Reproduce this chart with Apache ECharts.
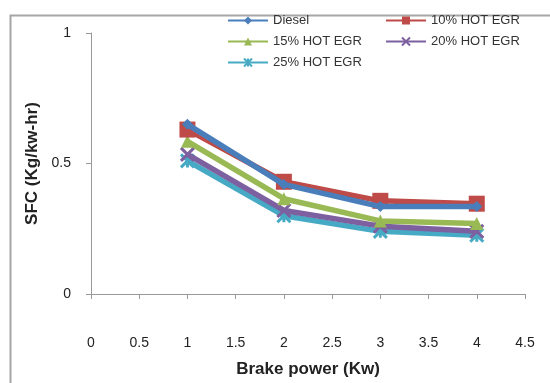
<!DOCTYPE html>
<html><head><meta charset="utf-8">
<script src="https://cdn.jsdelivr.net/npm/echarts@6/dist/echarts.min.js"></script>
<style>html,body{margin:0;padding:0;background:#fff}#c{width:550px;height:383px}</style>
</head><body><div id="c"></div>
<script>
const xValues = [1, 2, 3, 4];
const seriesNames = ['Diesel', '10% HOT EGR', '15% HOT EGR', '20% HOT EGR', '25% HOT EGR'];
const diesel = [0.65, 0.42, 0.335, 0.335];
const egr10 = [0.63, 0.43, 0.357, 0.346];
const egr15 = [0.585, 0.365, 0.28, 0.27];
const egr20 = [0.535, 0.32, 0.26, 0.24];
const egr25 = [0.51, 0.30, 0.24, 0.225];
const xTicks = [0, 0.5, 1, 1.5, 2, 2.5, 3, 3.5, 4, 4.5];
const yTicks = [0, 0.5, 1];

const colors = ['#4a7ebb', '#be4b48', '#98b954', '#7d60a0', '#46aac5'];
const symbols = ['diamond', 'rect', 'triangle',
  'path://M0,0 L10,10 M10,0 L0,10',
  'path://M0,0 L10,10 M10,0 L0,10 M5,0 L5,10'];
const sizes = [11, 16, 13, 13, 13];
const datas = [diesel, egr10, egr15, egr20, egr25];
const font = '"Liberation Sans Narrow", "Liberation Sans", sans-serif';

const series = seriesNames.map((n, i) => ({
  name: n, type: 'line',
  data: xValues.map((x, j) => [x, datas[i][j]]),
  symbol: symbols[i], symbolSize: sizes[i],
  lineStyle: {color: colors[i], width: 5.5},
  itemStyle: {color: colors[i], borderColor: colors[i], borderWidth: i >= 3 ? 3 : 0},
  z: 10 - i
}));

const legendCommon = {
  orient: 'vertical', itemWidth: 40, itemHeight: 10, itemGap: 8,
  textStyle: {fontFamily: font, fontSize: 13, color: '#333'}
};

const chart = echarts.init(document.getElementById('c'), null, {renderer: 'canvas'});
chart.setOption({
  animation: false,
  color: colors,
  graphic: [{type: 'rect', shape: {x: 10.5, y: 15.5, width: 560, height: 400},
    style: {fill: 'none', stroke: '#a6a6a6', lineWidth: 2}, silent: true}],
  grid: {left: 91, right: 25, top: 33, bottom: 87},
  legend: [
    Object.assign({}, legendCommon, {left: 222, top: 9, data: ['Diesel', '15% HOT EGR', '25% HOT EGR']}),
    Object.assign({}, legendCommon, {left: 380, top: 9, data: ['10% HOT EGR', '20% HOT EGR']})
  ],
  xAxis: {
    type: 'value', min: 0, max: 4.5, interval: 0.5,
    name: 'Brake power (Kw)', nameLocation: 'middle', nameGap: 67,
    nameTextStyle: {fontFamily: font, fontSize: 17, fontWeight: 'bold', color: '#222'},
    axisLine: {show: true, lineStyle: {color: '#999', width: 1}},
    axisTick: {show: true, length: 5, lineStyle: {color: '#999'}},
    axisLabel: {fontFamily: font, fontSize: 14, color: '#222', margin: 42,
      formatter: v => xTicks.includes(v) ? String(v) : ''},
    splitLine: {show: false}
  },
  yAxis: {
    type: 'value', min: 0, max: 1, interval: 0.5,
    name: 'SFC (Kg/kw-hr)', nameLocation: 'middle', nameGap: 46,
    nameTextStyle: {fontFamily: font, fontSize: 17, fontWeight: 'bold', color: '#222'},
    axisLine: {show: true, lineStyle: {color: '#999', width: 1}},
    axisTick: {show: true, length: 5, lineStyle: {color: '#999'}},
    axisLabel: {fontFamily: font, fontSize: 14, color: '#222', margin: 20,
      formatter: v => yTicks.includes(v) ? String(v) : ''},
    splitLine: {show: false}
  },
  series: series
});
</script></body></html>
